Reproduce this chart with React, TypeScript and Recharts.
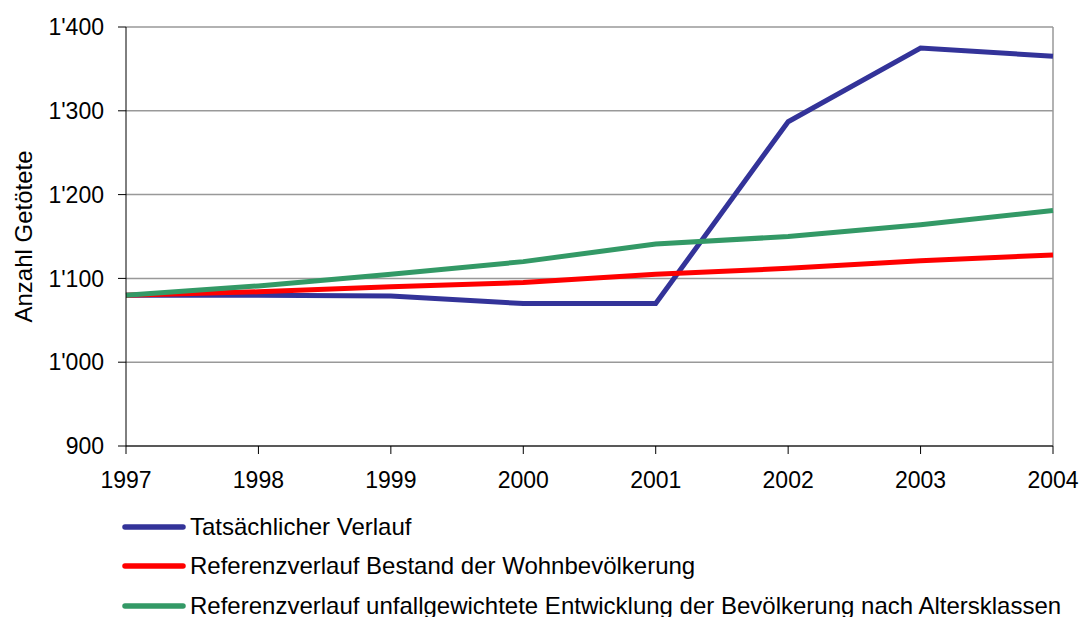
import { LineChart, Line, XAxis, YAxis, CartesianGrid, Legend, ReferenceLine } from 'recharts';

// years on the x axis
const years = ['1997', '1998', '1999', '2000', '2001', '2002', '2003', '2004'];

// values
const tatsaechlich = [1080, 1080, 1079, 1070, 1070, 1287, 1375, 1365];
const bestand = [1080, 1084, 1090, 1095, 1105, 1112, 1121, 1128];
const unfallgewichtet = [1080, 1091, 1105, 1120, 1141, 1150, 1164, 1181];

const yTicks = [900, 1000, 1100, 1200, 1300, 1400];

const seriesNames = [
  'Tatsächlicher Verlauf',
  'Referenzverlauf Bestand der Wohnbevölkerung',
  'Referenzverlauf unfallgewichtete Entwicklung der Bevölkerung nach Altersklassen',
];

const data = years.map((year, i) => ({
  year,
  a: tatsaechlich[i],
  b: bestand[i],
  c: unfallgewichtet[i],
}));

const FONT = '"Liberation Sans", Arial, sans-serif';

const fmt = (v: number) => {
  if (v < 1000) return String(v);
  const s = String(v);
  return s.slice(0, s.length - 3) + "'" + s.slice(s.length - 3);
};

function LegendBox(props: any) {
  const payload = [...(props.payload || [])].sort(
    (x: any, y: any) => seriesNames.indexOf(x.value) - seriesNames.indexOf(y.value)
  );
  return (
    <div style={{ fontFamily: FONT, fontSize: 24, color: '#000' }}>
      {payload.map((p: any) => (
        <div key={p.value} style={{ display: 'flex', alignItems: 'center', height: 39.5, whiteSpace: 'nowrap' }}>
          <svg width={64} height={10} style={{ marginLeft: 122 }}>
            <line x1={3} y1={5} x2={61} y2={5} stroke={p.color} strokeWidth={5.5} strokeLinecap="round" />
          </svg>
          <span style={{ marginLeft: 4 }}>{p.value}</span>
        </div>
      ))}
    </div>
  );
}

export default function App() {
  return (
    <div style={{ position: 'absolute', left: 0, top: 0, background: '#fff' }}>
      <LineChart width={1080} height={617} data={data} margin={{ top: 27, right: 27, left: 0, bottom: 0 }}>
        <CartesianGrid vertical={false} stroke="#999" strokeWidth={1.5} />
        <ReferenceLine x="2004" stroke="#999" strokeWidth={1.5} />
        <XAxis
          dataKey="year"
          height={50}
          tickSize={8}
          tickMargin={18}
          stroke="#000"
          fontSize={23}
          tick={{ fill: '#000', fontSize: 23, fontFamily: FONT }}
        />
        <YAxis
          width={126}
          domain={[900, 1400]}
          ticks={yTicks}
          tickFormatter={fmt}
          tickSize={8}
          tickMargin={14}
          stroke="#000"
          fontSize={23}
          tick={{ fill: '#000', fontSize: 23, fontFamily: FONT }}
          label={{
            value: 'Anzahl Getötete',
            angle: -90,
            position: 'insideLeft',
            offset: 23,
            style: { textAnchor: 'middle', fill: '#000', fontSize: 24, fontFamily: FONT },
          }}
        />
        <Legend
          verticalAlign="bottom"
          height={121}
          content={<LegendBox />}
          wrapperStyle={{ left: 0, top: 507, width: 1080 }}
        />
        <Line dataKey="a" name={seriesNames[0]} stroke="#333399" strokeWidth={5} dot={false} isAnimationActive={false} />
        <Line dataKey="b" name={seriesNames[1]} stroke="#ff0000" strokeWidth={5} dot={false} isAnimationActive={false} />
        <Line dataKey="c" name={seriesNames[2]} stroke="#339966" strokeWidth={5} dot={false} isAnimationActive={false} />
      </LineChart>
    </div>
  );
}
